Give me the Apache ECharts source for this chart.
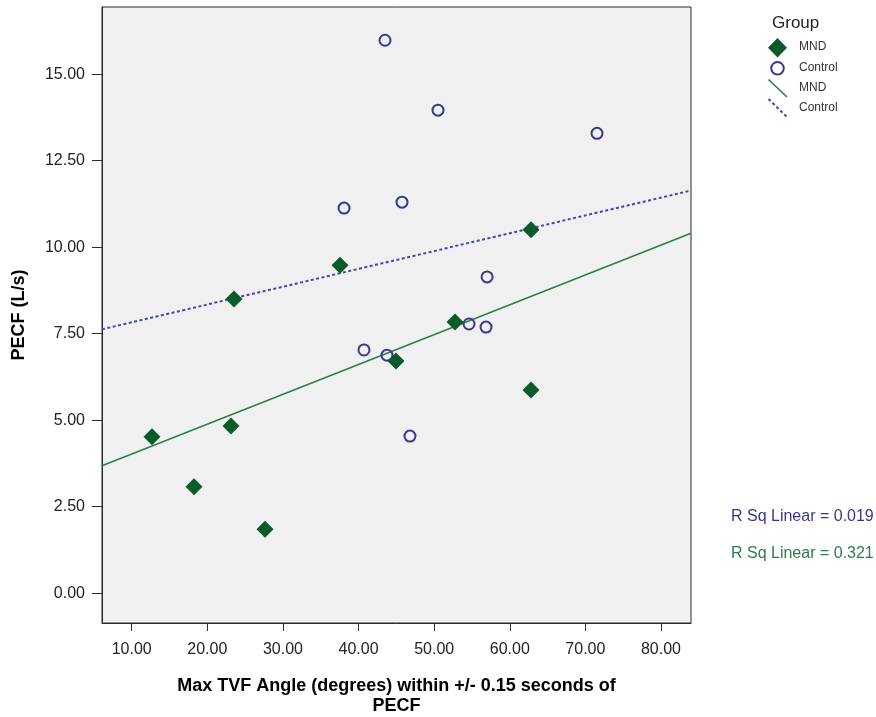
<!DOCTYPE html>
<html><head><meta charset="utf-8">
<script src="https://cdn.jsdelivr.net/npm/echarts@6/dist/echarts.min.js"></script>
<style>html,body{margin:0;padding:0;background:#fff}#c{width:876px;height:717px}</style>
</head><body><div id="c"></div>
<script>
// ---- data ----
const groups = ['MND', 'Control'];
const mndX = [12.68, 18.24, 23.13, 23.53, 27.63, 37.55, 44.95, 52.76, 62.81, 62.81];
const mndY = [4.52, 3.08, 4.83, 8.50, 1.85, 9.48, 6.71, 7.84, 10.50, 5.87];
const ctlX = [43.50, 50.51, 71.54, 38.08, 45.75, 57.00, 40.72, 43.76, 54.61, 56.86, 46.80];
const ctlY = [15.98, 13.96, 13.29, 11.13, 11.30, 9.14, 7.03, 6.88, 7.78, 7.69, 4.54];
const xTicks = [10, 20, 30, 40, 50, 60, 70, 80];
const yTicks = [0, 2.5, 5, 7.5, 10, 12.5, 15];
const rSqControl = 0.019;
const rSqMND = 0.321;
const xTitle = 'Max TVF Angle (degrees) within +/- 0.15 seconds of\nPECF';
const yTitle = 'PECF (L/s)';
const legendTitle = 'Group';

// ---- styling ----
const X_MIN = 6.07, X_MAX = 83.97, Y_MIN = -0.86, Y_MAX = 16.94;
const GREEN = '#0b5a2b', GREEN_LINE = '#2e7d4c', BLUE = '#38388e', BLUE_LINE = '#4646a4';
const FONT = "'Liberation Sans', Arial, sans-serif";

function fit(xs, ys) {
  const n = xs.length;
  const mx = xs.reduce((a, b) => a + b, 0) / n;
  const my = ys.reduce((a, b) => a + b, 0) / n;
  let sxy = 0, sxx = 0;
  for (let i = 0; i < n; i++) { sxy += (xs[i] - mx) * (ys[i] - my); sxx += (xs[i] - mx) ** 2; }
  const b = sxy / sxx, a = my - b * mx;
  return x => a + b * x;
}
const fM = fit(mndX, mndY), fC = fit(ctlX, ctlY);
const zip = (xs, ys) => xs.map((x, i) => [x, ys[i]]);

const chart = echarts.init(document.getElementById('c'), null, { renderer: 'canvas' });
chart.setOption({
  backgroundColor: '#ffffff',
  animation: false,
  textStyle: { fontFamily: FONT },
  grid: { left: 102, top: 7, width: 589, height: 616, containLabel: false, outerBoundsMode: 'none',
          show: true, backgroundColor: '#f0f0f0', borderColor: '#2b2b2b', borderWidth: 1 },
  xAxis: {
    type: 'value', min: X_MIN, max: X_MAX,
    axisLine: { show: true, onZero: false, lineStyle: { color: '#2b2b2b', width: 1 } },
    axisTick: { show: true, length: 8, customValues: xTicks, lineStyle: { color: '#2b2b2b' } },
    axisLabel: { customValues: xTicks, formatter: v => v.toFixed(2), fontSize: 16, color: '#222', margin: 19, fontFamily: FONT },
    splitLine: { show: false },
    name: xTitle, nameLocation: 'middle', nameGap: 53,
    nameTextStyle: { fontSize: 18, fontWeight: 'bold', color: '#000', lineHeight: 20, fontFamily: FONT }
  },
  yAxis: {
    type: 'value', min: Y_MIN, max: Y_MAX,
    axisLine: { show: true, onZero: false, lineStyle: { color: '#2b2b2b', width: 1 } },
    axisTick: { show: true, length: 10, customValues: yTicks, lineStyle: { color: '#2b2b2b' } },
    axisLabel: { customValues: yTicks, formatter: v => v.toFixed(2), fontSize: 16, color: '#222', margin: 17, fontFamily: FONT },
    splitLine: { show: false },
    name: yTitle, nameLocation: 'middle', nameGap: 74,
    nameTextStyle: { fontSize: 18, fontWeight: 'bold', color: '#000', fontFamily: FONT }
  },
  series: [
    { name: groups[1] + ' fit', type: 'line', data: [[X_MIN, fC(X_MIN)], [X_MAX, fC(X_MAX)]], showSymbol: false, symbol: 'none',
      lineStyle: { color: BLUE_LINE, width: 2, type: [3, 2.5] }, z: 2 },
    { name: groups[0] + ' fit', type: 'line', data: [[X_MIN, fM(X_MIN)], [X_MAX, fM(X_MAX)]], showSymbol: false, symbol: 'none',
      lineStyle: { color: GREEN_LINE, width: 1.6 }, z: 2 },
    { name: groups[1], type: 'scatter', data: zip(ctlX, ctlY), symbol: 'circle', symbolSize: 11,
      itemStyle: { color: 'rgba(0,0,0,0)', borderColor: BLUE, borderWidth: 2, opacity: 1 }, z: 3 },
    { name: groups[0], type: 'scatter', data: zip(mndX, mndY), symbol: 'diamond', symbolSize: 17,
      itemStyle: { color: GREEN, opacity: 1 }, z: 4 }
  ],
  graphic: [
    { type: 'text', left: 772, top: 15, style: { text: legendTitle, fontSize: 17, fill: '#222', fontFamily: FONT } },
    { type: 'polygon', shape: { points: [[777.5, 38], [787, 47.7], [777.5, 57.4], [768, 47.7]] }, style: { fill: GREEN } },
    { type: 'text', left: 799, top: 41, style: { text: groups[0], fontSize: 12, fill: '#333', fontFamily: FONT } },
    { type: 'circle', shape: { cx: 777.5, cy: 68.3, r: 6.3 }, style: { fill: 'none', stroke: BLUE, lineWidth: 2 } },
    { type: 'text', left: 799, top: 61.5, style: { text: groups[1], fontSize: 12, fill: '#333', fontFamily: FONT } },
    { type: 'line', shape: { x1: 768.5, y1: 79.5, x2: 787, y2: 97 }, style: { stroke: GREEN_LINE, lineWidth: 1.6 } },
    { type: 'text', left: 799, top: 81.5, style: { text: groups[0], fontSize: 12, fill: '#333', fontFamily: FONT } },
    { type: 'line', shape: { x1: 768.5, y1: 99, x2: 787, y2: 117 }, style: { stroke: BLUE_LINE, lineWidth: 2, lineDash: [3, 2.5] } },
    { type: 'text', left: 799, top: 101.5, style: { text: groups[1], fontSize: 12, fill: '#333', fontFamily: FONT } },
    { type: 'text', left: 731, top: 509, style: { text: 'R Sq Linear = ' + rSqControl.toFixed(3), fontSize: 16, fill: BLUE, fontFamily: FONT } },
    { type: 'text', left: 731, top: 546, style: { text: 'R Sq Linear = ' + rSqMND.toFixed(3), fontSize: 16, fill: GREEN_LINE, fontFamily: FONT } }
  ]
});
</script></body></html>
